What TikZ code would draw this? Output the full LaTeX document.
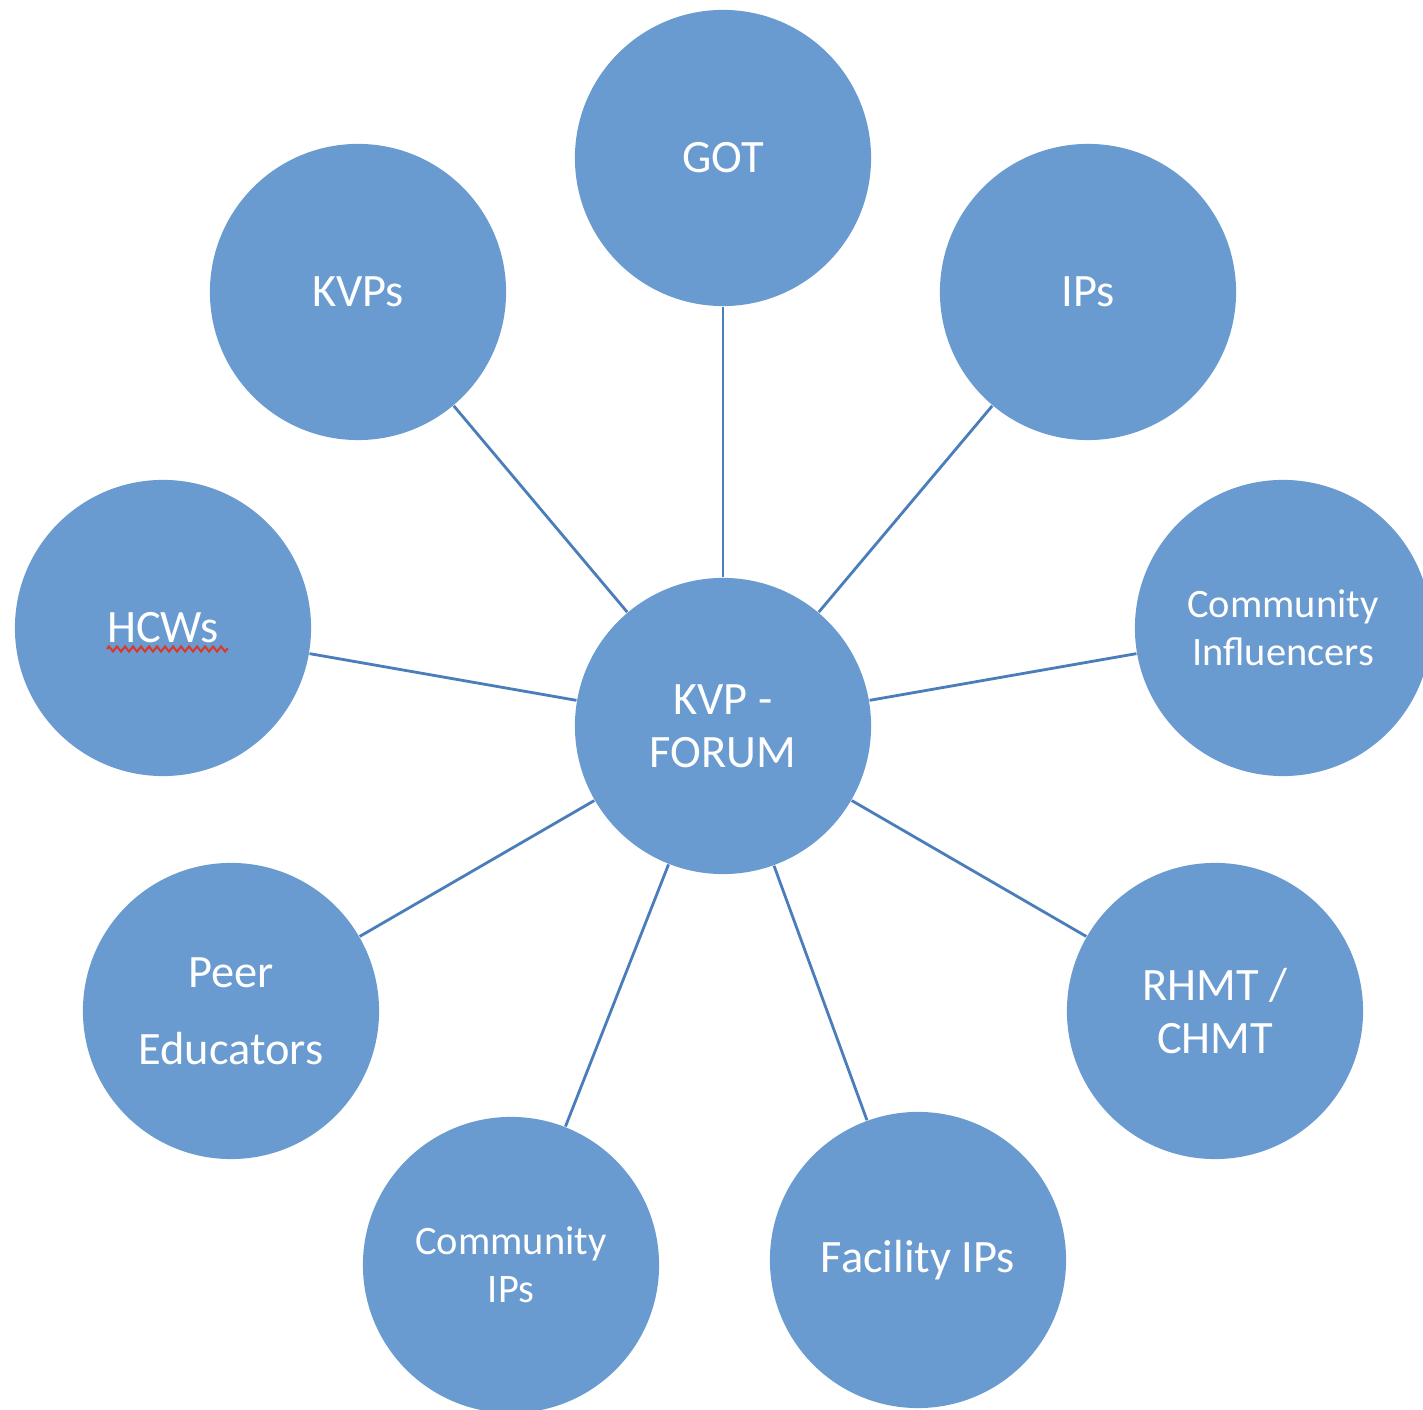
\documentclass[tikz,border=0pt]{standalone}
\usepackage{fontspec}
\setmainfont{Carlito}
\usetikzlibrary{calc,decorations.pathmorphing}
\definecolor{bubblefill}{HTML}{699BD0}
\definecolor{spokeline}{HTML}{4A7EBB}
\definecolor{spellred}{HTML}{D93A2B}
\tikzset{
  bubble/.style={circle, fill=bubblefill, minimum size=2.96cm, inner sep=0pt,
    text=white, align=center, font=\fontsize{13.2pt}{15pt}\selectfont},
  smallbubble/.style={bubble, font=\fontsize{11.5pt}{13.6pt}\selectfont},
  spoke/.style={draw=spokeline, line width=0.8pt}
}

\begin{document}
\begin{tikzpicture}[x=0.01cm, y=-0.01cm]
			%%%%% START %%%%%
			
			\useasboundingbox (0, 0) rectangle (1423, 1410);
			\clip (0, 0) rectangle (1423, 1410);
			
			\node[bubble] (forum) at (723, 726) {KVP -\\FORUM};
			
			\node[bubble] (got) at (723, 158) {GOT};
			\node[bubble] (kvps) at (358, 292) {KVPs};
			\node[bubble] (ips) at (1088, 292) {IPs};
			\node[bubble] (hcws) at (163, 628) {HCWs};
			\node[smallbubble] (influencers) at (1283, 628) {Community\\Influencers};
			\node[bubble] (peers) at (231, 1011) {Peer\\[7pt]Educators};
			\node[bubble] (rhmt) at (1215, 1011) {RHMT /\\CHMT};
			\node[smallbubble] (commips) at (511, 1265) {Community\\IPs};
			\node[bubble] (facips) at (918, 1260) {Facility IPs};
			
			\draw[spoke] (forum) -- (got);
			\draw[spoke] (forum) -- (kvps);
			\draw[spoke] (forum) -- (ips);
			\draw[spoke] (forum) -- (hcws);
			\draw[spoke] (forum) -- (influencers);
			\draw[spoke] (forum) -- (peers);
			\draw[spoke] (forum) -- (rhmt);
			\draw[spoke] (forum) -- (commips);
			\draw[spoke] (forum) -- (facips);
			
			\draw[spellred, line width=0.6pt, decorate,
			  decoration={zigzag, segment length=0.08cm, amplitude=0.025cm}]
			  ($(hcws)+(-56, 21)$) -- ($(hcws)+(65, 21)$);
			
			%%%%% END %%%%%
		\end{tikzpicture}
\end{document}
